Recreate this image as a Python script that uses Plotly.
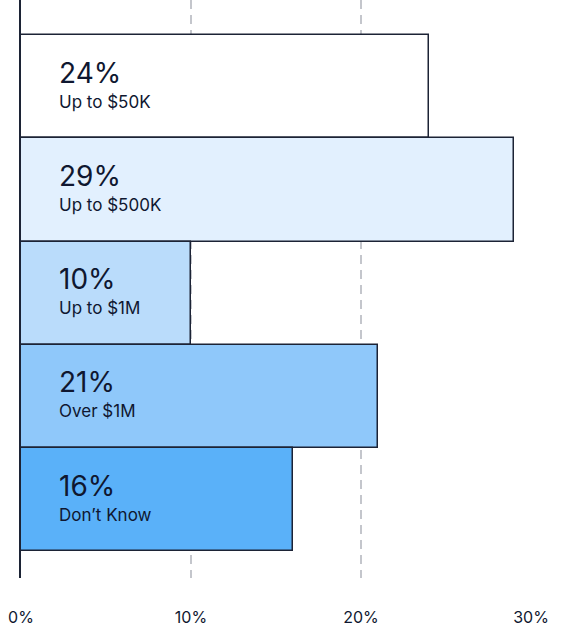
import plotly.graph_objects as go

# budget share by bracket
percent_values = [24, 29, 10, 21, 16]
bracket_labels = ["Up to $50K", "Up to $500K", "Up to $1M", "Over $1M", "Don\u2019t Know"]
bar_colors = ["#FFFFFF", "#E2F0FE", "#BADCFB", "#8FC8FA", "#5AB1F9"]
tick_values = [0, 10, 20, 30]
tick_labels = ["0%", "10%", "20%", "30%"]

font_family = "Inter, 'Noto Sans', sans-serif"
ink = "#0F1730"

positions = list(range(len(percent_values)))

fig = go.Figure()
fig.add_trace(go.Bar(
    x=percent_values,
    y=positions,
    orientation="h",
    width=1.0,
    marker=dict(color=bar_colors, line=dict(color="#1C2335", width=1.5)),
    hoverinfo="skip",
))

# big percentage plus bracket label inside each bar
for pos, val, lab in zip(positions, percent_values, bracket_labels):
    fig.add_annotation(x=0, y=pos, text=f"{val}%", showarrow=False,
                       xanchor="left", yanchor="middle", xshift=36, yshift=14,
                       font=dict(family=font_family, size=28, color=ink))
    fig.add_annotation(x=0, y=pos, text=lab, showarrow=False,
                       xanchor="left", yanchor="middle", xshift=36, yshift=-15,
                       font=dict(family=font_family, size=17, color=ink))

fig.update_layout(
    width=564, height=627,
    margin=dict(l=21, r=33, t=0, b=49),
    plot_bgcolor="white", paper_bgcolor="white",
    showlegend=False,
    bargap=0,
    xaxis=dict(
        range=[0, 30],
        tickvals=tick_values, ticktext=tick_labels,
        showgrid=True, gridcolor="#C4C6CC", gridwidth=1.5, griddash="9px,6px",
        zeroline=False, showline=False,
        ticks="", ticklabelstandoff=28,
        tickfont=dict(family=font_family, size=16, color=ink),
        automargin=False,
        fixedrange=True,
    ),
    yaxis=dict(
        range=[4.76, -0.84],
        showticklabels=False, showgrid=False, zeroline=False,
        showline=True, linecolor="#1C2335", linewidth=1.5,
        automargin=False,
        fixedrange=True,
    ),
)

# page has a default body margin; drop it so the figure sits at the window corner
fig.write_html("out.html", config={"displayModeBar": False},
               post_script="document.body.style.margin='0px';")
